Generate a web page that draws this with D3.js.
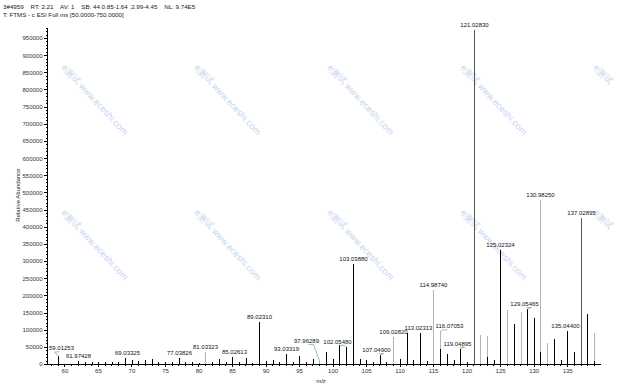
<!DOCTYPE html>
<html>
<head>
<meta charset="utf-8">
<script src="https://cdn.jsdelivr.net/npm/d3@7"></script>
<style>
body { margin: 0; background: #fff; }
svg { display: block; }
text { font-family: "Liberation Sans", Arial, sans-serif; }
</style>
</head>
<body>
<svg></svg>
<script>

let svgWidth = 636;
let svgHeight = 386;

// scan header
let headerLines = [
	"3#4959    RT: 2.21    AV: 1    SB: 44 0.85-1.64 ,2.99-4.45    NL: 9.74E5",
	"T: FTMS - c ESI Full ms [50.0000-750.0000]"
];

let xTicks = [60, 65, 70, 75, 80, 85, 90, 95, 100, 105, 110, 115, 120, 125, 130, 135];
let yTicks = [0, 50000, 100000, 150000, 200000, 250000, 300000, 350000, 400000, 450000,
	500000, 550000, 600000, 650000, 700000, 750000, 800000, 850000, 900000, 950000];

// m/z and intensity of each centroid
let peakMz = [
	59.01253, 61.97428, 63.06, 64.06, 65.05, 66.04, 67.04, 68.03, 69.03325, 70.03,
	71.01, 72.01, 73.01, 74.00, 75.02, 76.02, 77.03826, 78.03, 79.03, 80.03,
	81.03323, 82.04, 83.05, 84.04, 85.02613, 86.05, 87.04, 88.04, 89.02310, 90.03,
	91.05, 92.03, 93.03319, 94.04, 95.05, 96.04, 97.03, 97.96289, 99.03, 100.03,
	101.03, 102.05480, 103.03880, 104.04, 105.03, 106.03, 107.04900, 108.04, 109.02820, 110.03,
	111.04, 112.04, 113.02313, 114.03, 114.98740, 116.07053, 116.02, 117.06, 118.06, 119.04895,
	120.05, 121.02830, 122.03, 123.03, 123.05, 124.04, 125.02324, 126.03, 127.04, 128.04,
	129.05465, 130.04, 130.98250, 131.02, 131.93, 133.03, 134.04, 135.04400, 136.05, 137.02895,
	138.03, 139.03, 139.05
];
let peakInt = [
	22000, 10000, 6000, 6000, 6000, 5000, 6000, 5000, 17000, 12000,
	10000, 11000, 14500, 7000, 5000, 5000, 17000, 5000, 5000, 4000,
	36000, 5000, 15500, 5000, 21000, 7000, 16500, 4000, 123000, 8700,
	11600, 5000, 28000, 5000, 24000, 5000, 13600, 9000, 35000, 14500,
	55000, 50000, 290000, 14000, 12000, 6000, 26000, 5000, 80000, 14000,
	91000, 12000, 91000, 9000, 215000, 95000, 43000, 29000, 11000, 45000,
	7000, 974000, 84000, 81000, 19000, 11000, 332000, 157000, 118000, 152000,
	160000, 134000, 478000, 36000, 60000, 73000, 11000, 97000, 36000, 425000,
	146000, 89000, 10000
];

// peaks shown in the lighter trace
let grayPeaks = [81.03323, 97.96289, 109.02820, 114.98740, 116.07053, 122.03, 123.03,
	126.03, 128.04, 130.98250, 131.93, 139.03];
let darkPeaks = [121.02830, 137.02895];

// peaks carrying an m/z label
let labelled = [59.01253, 61.97428, 69.03325, 77.03826, 81.03323, 85.02613, 89.02310,
	93.03319, 97.96289, 102.05480, 103.03880, 107.04900, 109.02820, 113.02313, 114.98740,
	116.07053, 119.04895, 121.02830, 125.02324, 129.05465, 130.98250, 135.04400, 137.02895];

let peaks = peakMz.map((m, i) => ({mz: m, ab: peakInt[i]}));

var svg = d3.select("svg")
	.attr("width", svgWidth)
	.attr("height", svgHeight);

let xScale = d3.scaleLinear()
	.domain([57.4, 139.9])
	.range([47, 600]);
let yScale = d3.scaleLinear()
	.domain([0, 982000])
	.range([364, 27]);

// watermark (the right-hand column only shows its head)
let wmX = [61, 194, 327, 460, 593];
let wmY = [68, 213];
wmY.forEach(y => wmX.forEach(x => {
	svg.append("text")
		.text(x > 560 ? "e测试" : "e测试  www.eceshi.com")
		.attr("transform", `translate(${x}, ${y}) rotate(47)`)
		.attr("font-size", 9)
		.attr("font-family", "'Liberation Sans', 'Noto Sans CJK SC', sans-serif")
		.attr("fill", "#c3d4f0");
}));

// header
svg.selectAll("text.hdr")
	.data(headerLines)
	.enter()
	.append("text")
	.attr("class", "hdr")
	.text(d => d)
	.attr("x", 3)
	.attr("y", (d, i) => 9 + i * 7.5)
	.attr("font-size", 6.2)
	.style("white-space", "pre")
	.attr("fill", "#222");

// axes
let xAxis = d3.axisBottom(xScale)
	.tickValues(xTicks)
	.tickSize(3)
	.tickSizeOuter(0)
	.tickPadding(2);
let xMinor = d3.axisBottom(xScale)
	.tickValues(d3.range(58, 140))
	.tickSize(2)
	.tickSizeOuter(0)
	.tickFormat("");
let yAxis = d3.axisLeft(yScale)
	.tickValues(yTicks)
	.tickSize(3)
	.tickSizeOuter(0)
	.tickPadding(1.5)
	.tickFormat(d3.format("d"));
let yMinor = d3.axisLeft(yScale)
	.tickValues(d3.range(0, 980001, 10000))
	.tickSize(1.5)
	.tickSizeOuter(0)
	.tickFormat("");

let gx = svg.append("g").attr("transform", "translate(0, 364)");
gx.call(xMinor);
gx.append("g").call(xAxis);
let gy = svg.append("g").attr("transform", "translate(47, 0)");
gy.call(yMinor);
gy.append("g").call(yAxis);

svg.selectAll(".domain").attr("stroke", "#000").attr("shape-rendering", "crispEdges");
svg.selectAll(".tick line").attr("stroke", "#000").attr("shape-rendering", "crispEdges");
svg.selectAll(".tick text").attr("font-size", 6).attr("fill", "#333")
	.attr("font-family", "'Liberation Sans', Arial, sans-serif");

// peaks
svg.selectAll("line.peak")
	.data(peaks)
	.enter()
	.append("line")
	.attr("class", "peak")
	.attr("x1", d => Math.round(xScale(d.mz)) + 0.5)
	.attr("x2", d => Math.round(xScale(d.mz)) + 0.5)
	.attr("y1", yScale(0))
	.attr("y2", d => yScale(d.ab))
	.attr("stroke", d => grayPeaks.includes(d.mz) ? "#b4b4b4" : darkPeaks.includes(d.mz) ? "#555" : "#000")
	.attr("stroke-width", 1)
	.attr("shape-rendering", "crispEdges")
	.sort((a, b) => b.ab - a.ab);

// labels, some pushed aside with a leader
let labelShift = {
	"59.01253": [3, -3], "69.03325": [2, 0], "85.02613": [2, 0], "97.96289": [-13, -15],
	"102.05480": [-9, 0], "107.04900": [-4, 0], "113.02313": [-2, 0], "116.07053": [9, 0],
	"119.04895": [-3, 0], "129.05465": [-3, 0], "135.04400": [-2, 0]
};
let labelData = peaks.filter(d => labelled.includes(d.mz)).map(d => {
	let key = d.mz.toFixed(5);
	let s = labelShift[key] || [0, 0];
	let px = Math.round(xScale(d.mz)) + 0.5;
	let py = yScale(d.ab);
	return {text: key, px: px, py: py, lx: px + s[0], ly: py - 3 + s[1], shifted: Math.abs(s[0]) >= 3};
});

svg.selectAll("path.leader")
	.data(labelData.filter(d => d.shifted))
	.enter()
	.append("path")
	.attr("class", "leader")
	.attr("d", d => {
		let ex = d.lx + (d.px > d.lx ? 7 : -7);
		return `M${d.lx + (d.px > d.lx ? 2 : -2)},${d.ly + 1.5}L${ex},${d.ly + 1.5}L${d.px},${d.py}`;
	})
	.attr("fill", "none")
	.attr("stroke", "#5cb85c")
	.attr("stroke-width", 0.7);

svg.selectAll("text.lbl")
	.data(labelData)
	.enter()
	.append("text")
	.attr("class", "lbl")
	.text(d => d.text)
	.attr("x", d => d.lx)
	.attr("y", d => d.ly)
	.attr("text-anchor", "middle")
	.attr("font-size", 6)
	.attr("fill", "#111");

// axis titles
svg.append("text")
	.text("m/z")
	.attr("x", 321)
	.attr("y", 383)
	.attr("text-anchor", "middle")
	.attr("font-size", 6)
	.attr("fill", "#222");

svg.append("text")
	.text("Relative Abundance")
	.attr("transform", "rotate(-90)")
	.attr("x", -195)
	.attr("y", 20)
	.attr("text-anchor", "middle")
	.attr("font-size", 6)
	.attr("fill", "#222");

</script>
</body>
</html>
